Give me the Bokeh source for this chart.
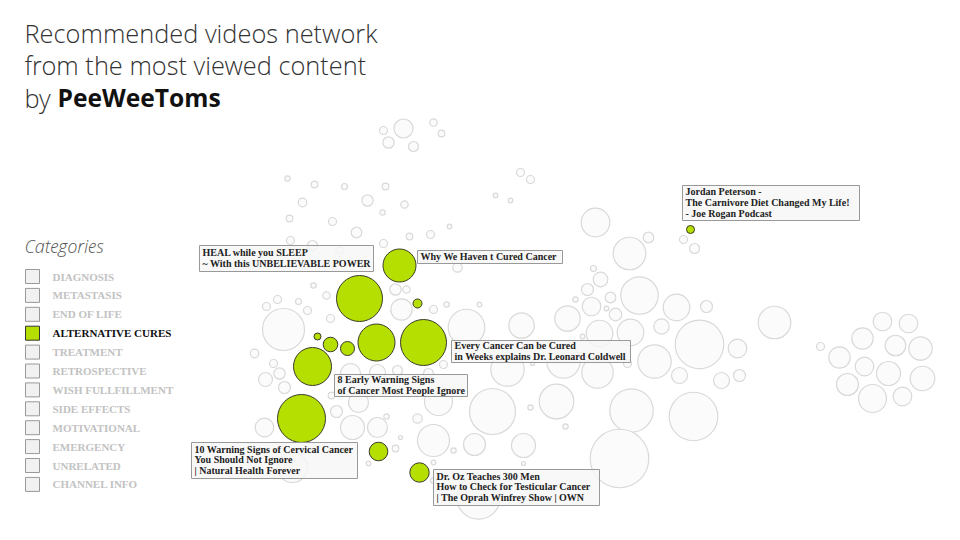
from bokeh.plotting import figure
from bokeh.models import Range1d, ColumnDataSource
from bokeh.core.properties import value
from bokeh.embed import file_html
from bokeh.resources import INLINE

# ---------------- data ----------------
title_lines = ["Recommended videos network", "from the most viewed content", "by "]
title_bold = "PeeWeeToms"

categories = ["DIAGNOSIS", "METASTASIS", "END OF LIFE", "ALTERNATIVE CURES", "TREATMENT",
              "RETROSPECTIVE", "WISH FULLFILLMENT", "SIDE EFFECTS", "MOTIVATIONAL",
              "EMERGENCY", "UNRELATED", "CHANNEL INFO"]
active_category = "ALTERNATIVE CURES"

# other recommended videos (grey nodes): x, y, radius
grey_x = [403, 383, 388, 413, 433, 441,
          287, 314, 344, 385, 302, 367, 404, 382, 289, 332, 356, 409, 430, 449, 290, 312, 339, 383, 457, 520, 530, 495, 510,
          313, 326, 395, 406, 277, 266, 298, 307, 330, 401, 433, 446, 479, 466, 521, 283,
          254, 273, 279, 265, 284, 331, 336, 358, 264, 352, 377, 386, 417, 438, 433, 474, 400, 395, 453, 433, 368, 292, 433, 478,
          350, 377, 397, 428, 443,
          595, 648, 629, 683, 694, 593, 600, 587, 610, 639, 575, 591, 606, 615, 567, 599, 630, 676, 661, 699, 582, 706, 774, 737,
          654, 597, 627, 679, 721, 739, 532, 507, 563, 492, 556, 631, 693, 530, 565, 523, 619, 523,
          820, 839, 862, 882, 908, 895, 920, 864, 888, 922, 847, 872, 902]
grey_y = [128, 130, 142, 146, 122, 133,
          178, 184, 186, 186, 202, 200, 204, 212, 218, 221, 232, 236, 234, 226, 240, 245, 250, 243, 267, 172, 179, 195, 200,
          285, 295, 289, 289, 299, 306, 301, 310, 318, 309, 309, 304, 304, 327, 325, 329,
          353, 363, 373, 379, 387, 395, 411, 402, 427, 427, 427, 416, 418, 401, 440, 444, 437, 448, 450, 462, 463, 467, 480, 497,
          373, 372, 370, 373, 364,
          222, 237, 253, 239, 248, 268, 279, 289, 297, 295, 299, 306, 308, 314, 318, 333, 332, 307, 326, 344, 336, 306, 322, 348,
          361, 372, 363, 375, 380, 375, 363, 369, 361, 411, 401, 410, 416, 407, 426, 445, 458, 463,
          346, 357, 338, 321, 323, 345, 348, 366, 373, 378, 384, 398, 396]
grey_r = [9.5, 4, 5.7, 5, 3.7, 3.3,
          2.7, 3.3, 3, 3.3, 4.3, 5.7, 3.7, 2.7, 3.3, 4, 5.3, 3.3, 4, 2.3, 4, 5, 3.7, 4, 4.7, 4, 4, 2.3, 2.3,
          2.7, 3.7, 5.7, 3.7, 4, 4, 3, 4, 4, 10.7, 4, 2.7, 2.3, 18.3, 12.7, 21,
          4.3, 4, 5.7, 7, 6, 3.3, 6, 10, 9.3, 12, 10, 2.7, 4.7, 14, 16, 11, 2, 3.3, 2.7, 2.3, 2.3, 15, 3, 21.7,
          10, 8, 5, 5, 4,
          14.3, 5.3, 16.3, 4, 5, 3, 7.3, 6, 5.3, 18.7, 2.7, 9.3, 2.3, 6.3, 12.7, 13.3, 13.3, 13.3, 7.7, 24.3, 2.3, 6, 16.3, 9.3,
          16.7, 15.7, 4, 8, 8, 6, 2, 16.7, 16.7, 23, 17.3, 21.7, 24.3, 2.7, 2.7, 12, 29.3, 2,
          4, 10.7, 10.7, 9.3, 9.3, 10.3, 11.7, 9.3, 12, 12.3, 11, 14, 9.3]

# alternative-cures videos (green nodes)
green_x = [399, 359, 417, 317, 330, 347, 376, 423, 312, 301, 378, 419, 690, 345]
green_y = [265, 298, 303, 336, 344, 348, 342, 342, 366, 418, 451, 472, 229, 450]
green_r = [16.5, 23, 4.5, 3.5, 7.3, 7, 18.5, 23, 19, 24, 9.3, 9.7, 4, 2.5]

# labelled videos: box left, top, right, bottom and text lines
label_left = [199, 417, 451, 334, 191, 433, 682]
label_top = [245, 250, 340, 374, 442, 469, 185]
label_right = [373, 562, 630, 467, 357, 599, 859]
label_bottom = [271, 263, 362, 396, 478, 505, 220]
label_lines = [
    ["HEAL while you SLEEP", "~ With this UNBELIEVABLE POWER"],
    ["Why We Haven t Cured Cancer"],
    ["Every Cancer Can be Cured", "in Weeks explains Dr. Leonard Coldwell"],
    ["8 Early Warning Signs", "of Cancer Most People Ignore"],
    ["10 Warning Signs of Cervical Cancer", "You Should Not Ignore", "| Natural Health Forever"],
    ["Dr. Oz Teaches 300 Men", "How to Check for Testicular Cancer", "| The Oprah Winfrey Show | OWN"],
    ["Jordan Peterson -", "The Carnivore Diet Changed My Life!", "- Joe Rogan Podcast"],
]

GREEN = "#b5df00"
SERIF = value("Liberation Serif")

# ---------------- figure ----------------
W, H = 944, 524
p = figure(width=W, height=H, output_backend="svg", toolbar_location=None,
           x_range=Range1d(0, W), y_range=Range1d(H, 0),
           min_border=0, background_fill_color="white", border_fill_color="white")
p.axis.visible = False
p.grid.visible = False
p.outline_line_color = None

# grey nodes
p.circle(x=grey_x, y=grey_y, radius=grey_r, fill_color="#fbfbfb",
         line_color="#d9d9d9", line_width=1.2)
# green nodes
p.circle(x=green_x, y=green_y, radius=green_r, fill_color=GREEN,
         line_color="#3a3a2a", line_width=1)

# label boxes
p.quad(left=label_left, right=label_right, top=label_top, bottom=label_bottom,
       fill_color="#f6f6f6", fill_alpha=0.8, line_color="#999999", line_width=1)

lx, ly, lt = [], [], []
LH = 10.8
for l, t, b, lines in zip(label_left, label_top, label_bottom, label_lines):
    n = len(lines)
    y0 = t + ((b - t) - n * LH) / 2 + 8.3 - 3.6
    for i, s in enumerate(lines):
        lx.append(l + 3)
        ly.append(y0 + i * LH)
        lt.append(s)
p.text(x=lx, y=ly, text=lt, text_font=SERIF, text_font_size="10px", text_font_style="bold",
       text_color="#222222", text_baseline="middle", text_align="left")

# title
TITLE_FONT = value("Open Sans Light")
p.text(x=[24, 24, 24], y=[32, 64.5, 97], text=title_lines, text_font=TITLE_FONT,
       text_font_size="25.4px", text_color="#333333", text_baseline="middle")
p.text(x=[57], y=[97], text=[title_bold], text_font=value("Open Sans"),
       text_font_size="24.6px", text_font_style="bold", text_color="#111111",
       text_baseline="middle")

# legend
p.text(x=[24], y=[245], text=["Categories"], text_font=TITLE_FONT,
       text_font_size="18px", text_font_style="italic", text_color="#555555",
       text_baseline="middle")
cy = [276 + 18.9 * i for i in range(len(categories))]
fills = [GREEN if c == active_category else "#f1f1f1" for c in categories]
lines_c = ["#333333" if c == active_category else "#999999" for c in categories]
tcol = ["#111111" if c == active_category else "#c2c2c2" for c in categories]
src = ColumnDataSource(dict(x=[32] * len(categories), y=cy, f=fills, lc=lines_c,
                            tx=[52] * len(categories), t=categories, tc=tcol))
p.rect(x="x", y="y", width=14, height=14, source=src, fill_color="f", line_color="lc",
       line_width=1)
p.text(x="tx", y="y", text="t", source=src, text_font=SERIF, text_font_size="11px",
       text_font_style="bold", text_color="tc", text_baseline="middle")

open("out.html", "w").write(file_html(p, INLINE))
